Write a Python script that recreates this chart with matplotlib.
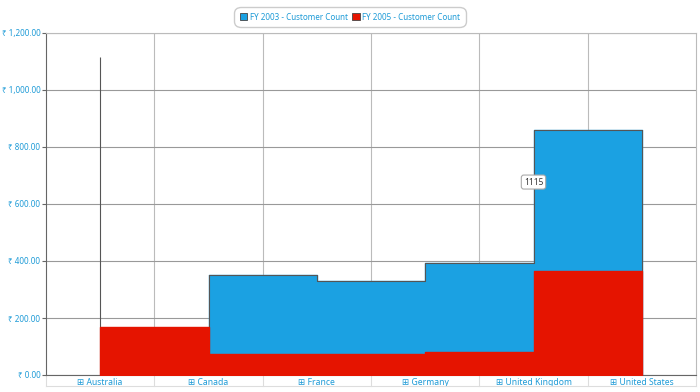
import numpy as np
import matplotlib.pyplot as plt

plt.rcParams['font.family'] = ['Noto Sans', 'DejaVu Sans']

countries = ['Australia', 'Canada', 'France', 'Germany', 'United Kingdom', 'United States']
fy2003 = [np.nan, 351, 330, 393, 860, 860]
fy2005 = [169, 73, 72, 80, 364, 364]
peak_value = 1115
tooltip_text = '1115'
yticks = [0, 200, 400, 600, 800, 1000, 1200]

blue = '#1BA1E2'
red = '#E51400'
label_color = '#1E9BD7'

fig = plt.figure(figsize=(7, 3.92), dpi=100)
ax = fig.add_axes([46/700, 17/392, 650/700, 342/392])

x = np.arange(len(countries))

# step areas (overlapping, not stacked)
ax.fill_between(x[1:], fy2003[1:], step='post', color=blue, zorder=2)
ax.step(x[1:], fy2003[1:], where='post', color='#555555', lw=0.8, zorder=3)
ax.vlines([x[1], x[-1]], 0, [fy2003[1], fy2003[-1]], color='#555555', lw=0.8, zorder=3)
ax.fill_between(x, fy2005, step='post', color=red, zorder=4)

# thin line at Australia
ax.vlines(0, 0, peak_value, color='#555555', lw=0.8, zorder=3)

# tooltip label
ax.text(4, 677, tooltip_text, fontsize=6, color='#333333', ha='center', va='center', zorder=6,
        bbox=dict(boxstyle='round,pad=0.3', fc='white', ec='#AAAAAA', lw=0.8))

ax.set_xlim(-0.5, len(countries) - 0.5)
ax.set_ylim(0, 1200)

ax.set_yticks(yticks)
ax.set_yticklabels([f'₹ {v:,.2f}' for v in yticks], fontsize=5.8, color=label_color)
ax.tick_params(axis='y', length=3, color='#666666', pad=1)
ax.grid(axis='y', color='#999999', lw=0.8, zorder=1)
for b in np.arange(len(countries) - 1) + 0.5:
    ax.axvline(b, color='#BBBBBB', lw=0.8, zorder=1)

ax.set_xticks(x)
ax.set_xticklabels(['⊞ ' + c for c in countries], fontsize=6.2, color=label_color)
ax.tick_params(axis='x', length=0, pad=2)
for b in np.arange(len(countries) + 1) - 0.5:
    ax.plot([b, b], [0, -40], color='#DDDDDD', lw=0.8, clip_on=False, zorder=1)
ax.plot([-0.5, len(countries) - 0.5], [-40, -40], color='#DDDDDD', lw=0.8, clip_on=False)

for side in ['top', 'right']:
    ax.spines[side].set_color('#BBBBBB')
ax.spines['left'].set_color('#666666')
ax.spines['bottom'].set_color('#666666')

# legend
leg = fig.legend(handles=[plt.Rectangle((0, 0), 1, 1, fc=blue, ec='#444444', lw=0.6),
                          plt.Rectangle((0, 0), 1, 1, fc=red, ec='#444444', lw=0.6)],
                 labels=['FY 2003 - Customer Count', 'FY 2005 - Customer Count'],
                 loc='center', bbox_to_anchor=(0.5, 1 - 17/392), ncol=2, fontsize=5.8,
                 handlelength=0.9, handleheight=0.9, handletextpad=0.3, columnspacing=0.6,
                 borderpad=0.7, fancybox=True, edgecolor='#CCCCCC', framealpha=1)
leg.get_frame().set_boxstyle('round', pad=0, rounding_size=0.8)
for t in leg.get_texts():
    t.set_color(label_color)

fig.savefig('out.png', dpi=100)
